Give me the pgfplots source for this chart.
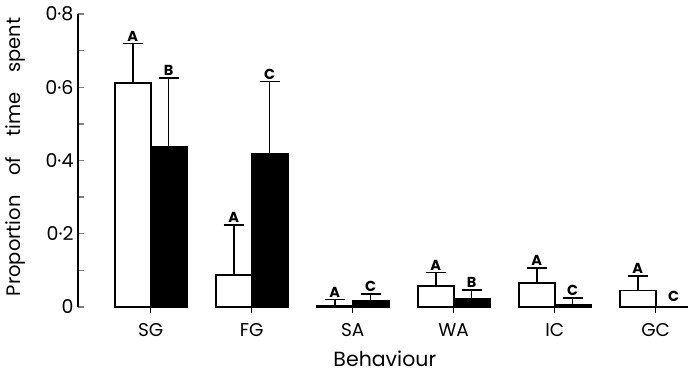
\documentclass[border=0pt]{standalone}
\usepackage{fontspec}
\setmainfont{Poppins}
\usepackage{pgfplots}
\pgfplotsset{compat=1.18}
\begin{document}
\begin{tikzpicture}[x=1pt,y=1pt]
\path[use as bounding box] (-78,-66) rectangle (610,307);
\begin{axis}[
  at={(0,0)}, anchor=south west,
  scale only axis, width=610pt, height=293pt,
  xmin=-0.72, xmax=5.32, ymin=0, ymax=0.8,
  clip=false,
  axis x line=none,
  axis y line*=left,
  y axis line style={line width=1.4pt,-},
  ytick={0,0.2,0.4,0.6,0.8},
  yticklabels={0,0{\textperiodcentered}2,0{\textperiodcentered}4,0{\textperiodcentered}6,0{\textperiodcentered}8},
  minor ytick={0.1,0.3,0.5,0.7},
  ytick style={line width=1.4pt},
  major tick length=6pt, minor tick length=6pt,
  tick align=inside,
  yticklabel style={font=\fontsize{19}{19}\selectfont, xshift=-1pt},
  ylabel={Proportion\hspace{0.75em} of\hspace{0.75em} time\hspace{0.75em} spent},
  ylabel style={at={(axis description cs:0,0.512)}, anchor=center, yshift=62pt, font=\fontsize{19.5}{19.5}\selectfont},
]
\addplot[ybar, bar width=36pt, bar shift=0pt, fill=white, draw=black, line width=1.8pt,
  error bars/.cd, y dir=plus, y explicit,
  error bar style={line width=1.6pt},
  error mark options={rotate=90, mark size=10pt, line width=1.6pt}]
  coordinates {
  (-0.178,0.612) +- (0,0.108)
  (0.822,0.087) +- (0,0.137)
  (1.822,0.004) +- (0,0.016)
  (2.822,0.058) +- (0,0.036)
  (3.822,0.065) +- (0,0.042)
  (4.822,0.045) +- (0,0.040)
  };
\addplot[ybar, bar width=36pt, bar shift=0pt, fill=black, draw=black, line width=1.8pt,
  error bars/.cd, y dir=plus, y explicit,
  error bar style={line width=1.6pt},
  error mark options={rotate=90, mark size=10pt, line width=1.6pt}]
  coordinates {
  (0.178,0.437) +- (0,0.189)
  (1.178,0.418) +- (0,0.198)
  (2.178,0.018) +- (0,0.017)
  (3.178,0.022) +- (0,0.024)
  (4.178,0.007) +- (0,0.017)
  (5.178,0.000) +- (0,0.000)
  };
% x tick marks below axis
\addplot[ycomb, mark=none, line width=1.4pt]
  coordinates {(0,-0.017) (1,-0.017) (2,-0.017) (3,-0.017) (4,-0.017) (5,-0.017)};
% category labels
\addplot[only marks, mark=none, nodes near coords, point meta=explicit symbolic,
  nodes near coords style={anchor=base, yshift=-29pt, font=\fontsize{18.5}{18.5}\selectfont}]
  coordinates {(0,0)[SG] (1,0)[FG] (2,0)[SA] (3,0)[WA] (4,0)[IC] (5,0)[GC]};
% significance letters
\addplot[only marks, mark=none, nodes near coords, point meta=explicit symbolic,
  nodes near coords style={anchor=south, yshift=0pt, inner sep=2pt, font=\fontsize{14.5}{14.5}\selectfont\bfseries}]
  coordinates {
  (-0.178,0.72)[A] (0.178,0.626)[B]
  (0.822,0.224)[A] (1.178,0.616)[C]
  (1.822,0.020)[A] (2.178,0.035)[C]
  (2.822,0.094)[A] (3.178,0.046)[B]
  (3.822,0.107)[A] (4.178,0.024)[C]
  (4.822,0.085)[A] (5.178,0.010)[C]
  };
\node[anchor=base, font=\fontsize{20.5}{20.5}\selectfont] at (axis description cs:0.503,0) [yshift=-59pt] {Behaviour};
\end{axis}
\end{tikzpicture}
\end{document}
